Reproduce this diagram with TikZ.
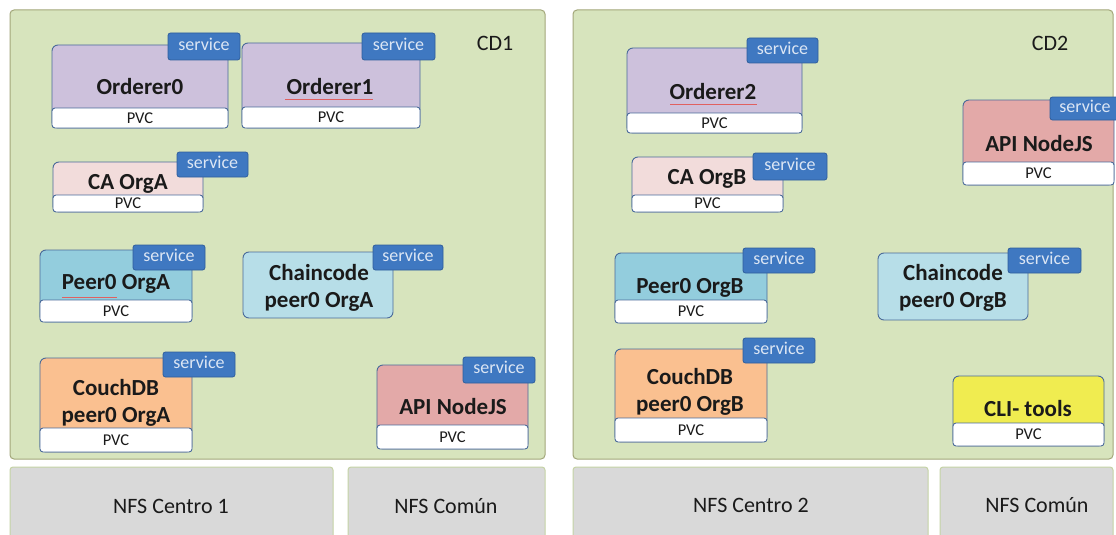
\documentclass[tikz,border=0pt]{standalone}
\usepackage{fontspec}
\setmainfont{Carlito}
\usetikzlibrary{fit}
\definecolor{cdfill}{HTML}{D7E4BD}
\definecolor{cdline}{HTML}{A3A77A}
\definecolor{nfsfill}{HTML}{D9D9D9}
\definecolor{nfsline}{HTML}{C5D3A5}
\definecolor{podline}{HTML}{4A6A9A}
\definecolor{svcfill}{HTML}{3F78C1}
\definecolor{svcline}{HTML}{2F5E9C}
\definecolor{svctext}{HTML}{DCE6F4}
\definecolor{ordfill}{HTML}{CDC1DC}
\definecolor{cafill}{HTML}{F2DCDB}
\definecolor{peerfill}{HTML}{93CDDD}
\definecolor{ccfill}{HTML}{B7DEE8}
\definecolor{dbfill}{HTML}{FAC090}
\definecolor{apifill}{HTML}{E3A9A8}
\definecolor{clifill}{HTML}{F0EC50}
\definecolor{ink}{HTML}{1A1A1A}
\definecolor{spellred}{HTML}{E06060}
% persistent volume strip: box #1 from (#2,#3) to (#4,#5), caption centred in it
\newcommand\pvcstrip[5]{%
  \node[pvc, fit={(#2,#3) (#4,#5)}] (#1) {};
  \node[pvctext] (#1t) at ([yshift=-2pt]#1.center) {PVC};}
% service tab: box #1 from (#2,#3) to (#4,#5)
\newcommand\svctab[5]{%
  \node[svc, fit={(#2,#3) (#4,#5)}] (#1) {};
  \node[svctxt] (#1t) at ([yshift=-1.5pt]#1.center) {service};}
\begin{document}
\begin{tikzpicture}[x=1pt,y=-1pt,
  cd/.style={draw=cdline, fill=cdfill, line width=1pt, rounded corners=4pt, inner sep=0pt},
  nfs/.style={draw=nfsline, fill=nfsfill, line width=1pt, rounded corners=3pt, inner sep=0pt},
  pod/.style={draw=podline, line width=0.9pt, rounded corners=6pt, inner sep=0pt},
  pvc/.style={draw=podline, fill=white, line width=0.9pt, rounded corners=3pt, inner sep=0pt},
  pvctext/.style={font=\fontsize{16.5}{18}\selectfont, text=ink, inner sep=0pt,
    text height=0.64em, text depth=0pt},
  svc/.style={draw=svcline, fill=svcfill, line width=0.8pt, rounded corners=2.5pt, inner sep=0pt},
  svctxt/.style={font=\fontsize{18}{19}\selectfont, text=svctext, inner sep=0pt,
    text height=0.47em, text depth=0pt},
  podlabel/.style={font=\bfseries\fontsize{23}{27}\selectfont, text=ink, align=center, inner sep=0pt},
  bigtext/.style={font=\fontsize{22}{26}\selectfont, text=ink, inner sep=0pt},
  spell/.style={draw=spellred, line width=0.5pt}
]
\useasboundingbox (0,0) rectangle (1116,535);
\clip (0,0) rectangle (1116,535);
\fill[white] (0,0) rectangle (1116,535);

% ---------- containers ----------
\node[cd, fit={(10,10) (545,459)}] (cd1) {};
\node[bigtext] (cd1t) at (495,43) {CD1};
\node[cd, fit={(573,10) (1113,459)}] (cd2) {};
\node[bigtext] (cd2t) at (1050,43) {CD2};

% ---------- storage ----------
\node[nfs, fit={(10,467) (333,545)}] (nfs1) {};
\node[bigtext] (nfs1t) at (171,506) {NFS Centro 1};
\node[nfs, fit={(348,467) (545,545)}] (nfsc1) {};
\node[bigtext] (nfsc1t) at (446,506) {NFS Común};
\node[nfs, fit={(573,467) (928,545)}] (nfs2) {};
\node[bigtext] (nfs2t) at (751,505) {NFS Centro 2};
\node[nfs, fit={(940,467) (1113,545)}] (nfsc2) {};
\node[bigtext] (nfsc2t) at (1037,505) {NFS Común};

% ---------- CD1 pods ----------
\node[pod, fill=ordfill, fit={(52,45) (228,128)}] (o0) {};
\pvcstrip{o0p}{52}{108}{228}{128}
\node[podlabel] (o0t) at (140,87) {Orderer0};

\node[pod, fill=ordfill, fit={(242,43) (420,128)}] (o1) {};
\pvcstrip{o1p}{242}{107}{420}{128}
\node[podlabel] (o1t) at (330,87) {Orderer1};
\draw[spell] (285,99) -- (373,99);

\node[pod, fill=cafill, fit={(53,162) (203,212)}] (caa) {};
\pvcstrip{caap}{53}{195}{203}{212}
\node[podlabel] (caat) at (128,184) {CA OrgA};

\node[pod, fill=peerfill, fit={(40,250) (192,322)}] (pa) {};
\pvcstrip{pap}{40}{300}{192}{322}
\node[podlabel] (pat) at (116,284) {Peer0 OrgA};
\draw[spell] (62,297) -- (117,297);

\node[pod, fill=dbfill, fit={(40,358) (192,452)}] (dba) {};
\pvcstrip{dbap}{40}{428}{192}{452}
\node[podlabel] (dbat) at (116,403) {CouchDB\\peer0 OrgA};

\node[pod, fill=ccfill, fit={(243,252) (393,318)}] (cca) {};
\node[podlabel] (ccat) at (319,288) {Chaincode\\peer0 OrgA};

\node[pod, fill=apifill, fit={(377,365) (528,449)}] (apia) {};
\pvcstrip{apiap}{377}{425}{528}{449}
\node[podlabel] (apiat) at (453,407) {API NodeJS};

% ---------- CD2 pods ----------
\node[pod, fill=ordfill, fit={(627,48) (802,133)}] (o2) {};
\pvcstrip{o2p}{627}{113}{802}{133}
\node[podlabel] (o2t) at (713,92) {Orderer2};
\draw[spell] (670,104) -- (757,104);

\node[pod, fill=cafill, fit={(632,157) (783,212)}] (cab) {};
\pvcstrip{cabp}{632}{195}{783}{212}
\node[podlabel] (cabt) at (707,179) {CA OrgB};

\node[pod, fill=peerfill, fit={(615,253) (767,323)}] (pb) {};
\pvcstrip{pbp}{615}{300}{767}{323}
\node[podlabel] (pbt) at (690,288) {Peer0 OrgB};

\node[pod, fill=dbfill, fit={(615,349) (767,442)}] (dbb) {};
\pvcstrip{dbbp}{615}{418}{767}{442}
\node[podlabel] (dbbt) at (690,392) {CouchDB\\peer0 OrgB};

\node[pod, fill=ccfill, fit={(878,253) (1028,320)}] (ccb) {};
\node[podlabel] (ccbt) at (953,288) {Chaincode\\peer0 OrgB};

\node[pod, fill=clifill, fit={(953,376) (1104,446)}] (cli) {};
\pvcstrip{clip}{953}{423}{1104}{446}
\node[podlabel] (clit) at (1028,409) {CLI- tools};

\node[pod, fill=apifill, fit={(963,100) (1114,185)}] (apib) {};
\pvcstrip{apibp}{963}{162}{1114}{185}
\node[podlabel] (apibt) at (1039,144) {API NodeJS};

% ---------- service tabs ----------
\svctab{o0s}{168}{33}{240}{60}
\svctab{o1s}{362}{33}{435}{60}
\svctab{caas}{177}{152}{248}{177}
\svctab{pas}{133}{245}{205}{270}
\svctab{dbas}{163}{352}{235}{377}
\svctab{ccas}{373}{245}{443}{270}
\svctab{apias}{463}{357}{535}{383}

\svctab{o2s}{747}{38}{818}{63}
\svctab{cabs}{753}{153}{827}{180}
\svctab{pbs}{743}{248}{815}{273}
\svctab{dbbs}{743}{338}{815}{363}
\svctab{ccbs}{1008}{248}{1081}{273}
\node[svc, fit={(1050,97) (1124,120)}] (apibs) {};
\node[svctxt] (apibst) at (1085,110) {service};
\end{tikzpicture}
\end{document}
